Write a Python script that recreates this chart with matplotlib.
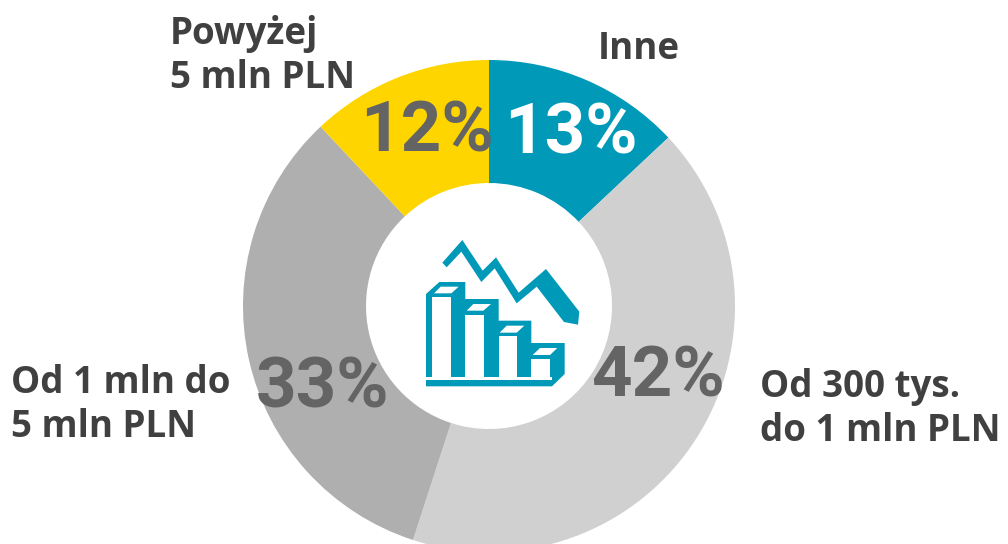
import matplotlib
matplotlib.use("Agg")
import matplotlib.pyplot as plt
from matplotlib.patches import Polygon

labels = ["Inne", "Od 300 tys.\ndo 1 mln PLN", "Od 1 mln do\n5 mln PLN", "Powyżej\n5 mln PLN"]
values = [13, 42, 33, 12]
pct_labels = ["13%", "42%", "33%", "12%"]
colors = ["#0099B8", "#D0D0D0", "#AFAFAF", "#FFD500"]
pct_colors = ["white", "#646464", "#646464", "#646464"]
text_color = "#404040"
icon_color = "#0099B8"

W, H = 1008, 544
fig = plt.figure(figsize=(W / 100, H / 100), dpi=100)
ax = fig.add_axes([0, 0, 1, 1])

# y axis runs downwards, so counterclock here is clockwise on screen
ax.pie(values, colors=colors, startangle=-90, counterclock=True,
       radius=246, center=(489, 306), frame=True,
       wedgeprops=dict(width=123, linewidth=0))
ax.set_xlim(0, W)
ax.set_ylim(H, 0)
ax.set_aspect("equal")
ax.axis("off")

pct_pos = [(571, 134), (658, 377), (323, 388), (427, 132)]
for s, p, c in zip(pct_labels, pct_pos, pct_colors):
    ax.text(p[0], p[1], s, color=c, fontsize=51, fontweight="bold",
            ha="center", va="center", family="Roboto")

label_pos = [(598, 49), (760, 409), (11, 405), (170, 56)]
for s, p in zip(labels, label_pos):
    ax.text(p[0], p[1], s, color=text_color, fontsize=26.5, fontweight="bold",
            ha="left", va="center", family="Open Sans", linespacing=1.22)


def icon_pts(pts):
    # points (3x, origin at 400,220)
    return [(400 + x / 3, 220 + y / 3) for x, y in pts]


def icon_poly(pts, color):
    ax.add_patch(Polygon(icon_pts(pts), closed=True, fc=color, ec="none"))


# falling line with arrow end
icon_poly([(127, 128), (187, 60), (248, 152), (288, 112), (356, 218), (438, 147),
           (538, 275), (534, 314), (492, 306), (410, 200), (350, 250), (284, 145),
           (244, 186), (184, 95), (140, 142)], icon_color)

# bars: teal silhouette first, then white faces on top
icon_poly([(78, 222), (118, 186), (196, 186), (196, 237), (296, 237), (296, 302),
           (394, 302), (394, 369), (494, 369), (494, 462), (456, 499), (78, 499)], icon_color)
icon_poly([(78, 470), (456, 470), (456, 480), (78, 480)], "white")
for x0, x1, top in [(97, 152, 232), (196, 251, 284), (296, 350, 349), (394, 449, 416)]:
    icon_poly([(x0, top), (x1, top), (x1, 470), (x0, 470)], "white")
icon_poly([(102, 220), (122, 200), (176, 200), (154, 220)], "white")
icon_poly([(200, 272), (220, 252), (273, 252), (250, 272)], "white")
icon_poly([(299, 338), (320, 317), (373, 317), (350, 338)], "white")
icon_poly([(398, 405), (420, 384), (472, 384), (450, 405)], "white")

fig.savefig("out.png", dpi=100)
